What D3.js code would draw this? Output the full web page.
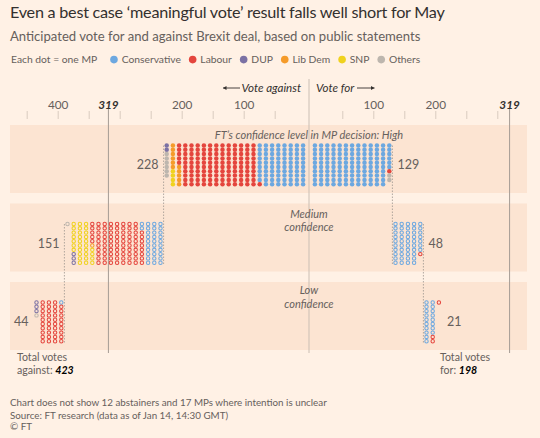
<!DOCTYPE html>
<html><head><meta charset="utf-8">
<script src="https://cdn.jsdelivr.net/npm/d3@7"></script>
<style>
html,body{margin:0;padding:0;background:#fff1e5;}
svg{display:block;font-family:Lato,"Open Sans",sans-serif;}
</style></head><body>
<svg id="c" width="540" height="438"></svg>
<script>
// ---------- data ----------
const levels = ["High", "Medium", "Low"];
const stackOrder = ["Conservative", "Labour", "Lib Dem", "SNP", "DUP", "Others"];
const legendOrder = ["Conservative", "Labour", "DUP", "Lib Dem", "SNP", "Others"];
const againstHigh = [79, 126, 11, 4, 2, 6];
const againstMedium = [32, 83, 1, 31, 3, 1];
const againstLow = [1, 39, 0, 0, 3, 1];
const forHigh = [126, 1, 0, 0, 0, 2];
const forMedium = [47, 1, 0, 0, 0, 0];
const forLow = [18, 3, 0, 0, 0, 0];
const leftTickLabels = [400, 319, 200, 100];
const rightTickLabels = [100, 200, 319];
const leftMinorTicks = [50, 100, 150, 200, 250, 300, 350, 400, 450];
const rightMinorTicks = [50, 100, 150, 200, 250, 300];
const majority = 319;
const totalAgainst = 423;
const totalFor = 198;

// ---------- styles ----------
const color = d3.scaleOrdinal()
  .domain(["Conservative", "Labour", "DUP", "Lib Dem", "SNP", "Others"])
  .range(["#6da8e0", "#e4453d", "#7b71a4", "#f59b2a", "#f0d21e", "#bdb6ae"]);
const INK = "#33302e", MUTED = "#66605c";

const svg = d3.select("#c");
svg.append("rect").attr("width", 540).attr("height", 438).attr("fill", "#fff1e5");

const pxPer = 0.62;
const xL = d3.scaleLinear().domain([0, 450]).range([306.2, 306.2 - 450 * pxPer]);
const xR = d3.scaleLinear().domain([0, 350]).range([311.8, 311.8 + 350 * pxPer]);
const centerX = 309;
const yBand = d3.scalePoint().domain(levels).range([125, 282]);
const dotTop = 20.5, bandH = 68;
const yRow = d3.scaleLinear().domain([0, 9]).range([0, 38.7]);

// bands
svg.append("g").selectAll("rect").data(levels).join("rect")
  .attr("x", 10).attr("width", 517)
  .attr("y", d => yBand(d)).attr("height", bandH)
  .attr("fill", "#fce4d2");

// ticks
const tickG = svg.append("g").attr("stroke", "#d9cbbf").attr("stroke-width", 1);
leftMinorTicks.forEach(v => tickG.append("line").attr("x1", xL(v)).attr("x2", xL(v)).attr("y1", 111).attr("y2", 119));
rightMinorTicks.forEach(v => tickG.append("line").attr("x1", xR(v)).attr("x2", xR(v)).attr("y1", 111).attr("y2", 119));

// center & majority lines
svg.append("line").attr("x1", centerX).attr("x2", centerX).attr("y1", 79).attr("y2", 353)
  .attr("stroke", "#cbbfb4").attr("stroke-width", 1);
[xL(majority), xR(majority)].forEach(x =>
  svg.append("line").attr("x1", x).attr("x2", x).attr("y1", 108).attr("y2", 353)
    .attr("stroke", "#a59c94").attr("stroke-width", 1));

// tick labels
const tl = svg.append("g").attr("font-size", 11.8).attr("text-anchor", "middle");
const tickText = (g, x, v) => g.append("text").attr("x", x).attr("y", 108.5)
  .attr("fill", v === majority ? INK : MUTED)
  .attr("font-style", v === majority ? "italic" : null)
  .attr("font-weight", v === majority ? 700 : null).text(v);
leftTickLabels.forEach(v => tickText(tl, xL(v), v));
rightTickLabels.forEach(v => tickText(tl, xR(v), v));

// direction labels
const dir = svg.append("g").attr("font-size", 11.6).attr("font-style", "italic").attr("fill", INK);
dir.append("text").attr("x", 301).attr("y", 92).attr("text-anchor", "end").text("Vote against");
dir.append("text").attr("x", 316).attr("y", 92).text("Vote for");
const arrow = (x1, x2) => {
  svg.append("line").attr("x1", x1).attr("x2", x2).attr("y1", 88).attr("y2", 88).attr("stroke", INK).attr("stroke-width", 0.9);
  const s = x2 > x1 ? 1 : -1;
  svg.append("path").attr("d", `M${x2},88 l${-3.5 * s},-2 v4 z`).attr("fill", INK);
};
arrow(240, 223);
arrow(357, 374.5);

// dots
const data = {
  against: { High: againstHigh, Medium: againstMedium, Low: againstLow },
  for: { High: forHigh, Medium: forMedium, Low: forLow }
};
const sides = [{ key: "against", x: xL, sign: -1 }, { key: "for", x: xR, sign: 1 }];
const dotG = svg.append("g");
const lineG = svg.append("g");
const labG = svg.append("g").attr("font-size", 12.5).attr("fill", MUTED);

sides.forEach(side => {
  let colStart = 0;
  levels.forEach((lev, li) => {
    const counts = data[side.key][lev];
    const total = d3.sum(counts);
    const ncols = Math.ceil(total / 10);
    const top = yBand(lev) + dotTop;
    const dots = [];
    let n = 0;
    counts.forEach((c, pi) => {
      for (let k = 0; k < c; k++, n++) dots.push({ party: stackOrder[pi], col: colStart + Math.floor(n / 10), row: n % 10 });
    });
    const filled = lev === "High";
    dotG.selectAll(null).data(dots).join("circle")
      .attr("cx", d => side.x(d.col * 10 + 5))
      .attr("cy", d => top + yRow(d.row))
      .attr("r", filled ? 2.25 : 1.7)
      .attr("fill", d => filled ? color(d.party) : "none")
      .attr("stroke", d => filled ? "none" : color(d.party))
      .attr("stroke-width", 1.05);
    if (li > 0) {
      const bx = side.x(colStart * 10);
      const prevTop = yBand(levels[li - 1]) + dotTop;
      lineG.append("line").attr("x1", bx).attr("x2", bx)
        .attr("y1", prevTop).attr("y2", top + yRow(9) + 1.5)
        .attr("stroke", "#9d958e").attr("stroke-width", 0.8).attr("stroke-dasharray", "1.5,1.5");
    }
    const ex = side.x((colStart + ncols) * 10) + side.sign * 5;
    labG.append("text").attr("x", ex).attr("y", top + yRow(4.5) + 4.5)
      .attr("text-anchor", side.sign < 0 ? "end" : "start").text(total);
    colStart += ncols;
  });
});

// level titles
const lt = svg.append("g").attr("font-size", 11).attr("font-style", "italic").attr("fill", MUTED).attr("text-anchor", "middle");
lt.append("text").attr("x", centerX).attr("y", yBand("High") + 14).text("FT’s confidence level in MP decision: High");
lt.append("text").attr("x", centerX).attr("y", yBand("Medium") + 14).text("Medium");
lt.append("text").attr("x", centerX).attr("y", yBand("Medium") + 27).text("confidence");
lt.append("text").attr("x", centerX).attr("y", yBand("Low") + 12).text("Low");
lt.append("text").attr("x", centerX).attr("y", yBand("Low") + 25.5).text("confidence");

// totals
const tot = svg.append("g").attr("font-size", 10.6).attr("fill", MUTED);
tot.append("text").attr("x", 17).attr("y", 360.5).text("Total votes");
const ta = tot.append("text").attr("x", 17).attr("y", 374);
ta.append("tspan").text("against: ");
ta.append("tspan").attr("font-weight", 700).attr("font-style", "italic").attr("fill", "#000").text(totalAgainst);
tot.append("text").attr("x", 440).attr("y", 360.5).text("Total votes");
const tf = tot.append("text").attr("x", 440).attr("y", 374);
tf.append("tspan").text("for: ");
tf.append("tspan").attr("font-weight", 700).attr("font-style", "italic").attr("fill", "#000").text(totalFor);

// title etc
svg.append("text").attr("x", 10).attr("y", 18).attr("font-size", 16.2).attr("letter-spacing", -0.25)
  .attr("fill", INK).text("Even a best case ‘meaningful vote’ result falls well short for May");
svg.append("text").attr("x", 10).attr("y", 40.5).attr("font-size", 13.1).attr("fill", MUTED)
  .text("Anticipated vote for and against Brexit deal, based on public statements");

// legend
const lg = svg.append("g").attr("font-size", 10.3).attr("fill", MUTED);
let lx = 11;
const t0 = lg.append("text").attr("x", lx).attr("y", 63.3).text("Each dot = one MP");
lx += t0.node().getComputedTextLength() + 13;
legendOrder.forEach(p => {
  lg.append("circle").attr("cx", lx + 3.8).attr("cy", 59.6).attr("r", 3.8).attr("fill", color(p));
  const t = lg.append("text").attr("x", lx + 11.5).attr("y", 63.3).text(p);
  lx += 11.5 + t.node().getComputedTextLength() + 8;
});

// footnotes
const fn = svg.append("g").attr("font-size", 9.8).attr("fill", MUTED);
fn.append("text").attr("x", 10).attr("y", 406).text("Chart does not show 12 abstainers and 17 MPs where intention is unclear");
fn.append("text").attr("x", 10).attr("y", 418.5).text("Source: FT research (data as of Jan 14, 14:30 GMT)");
fn.append("text").attr("x", 10).attr("y", 430).text("© FT");
</script>
</body></html>
